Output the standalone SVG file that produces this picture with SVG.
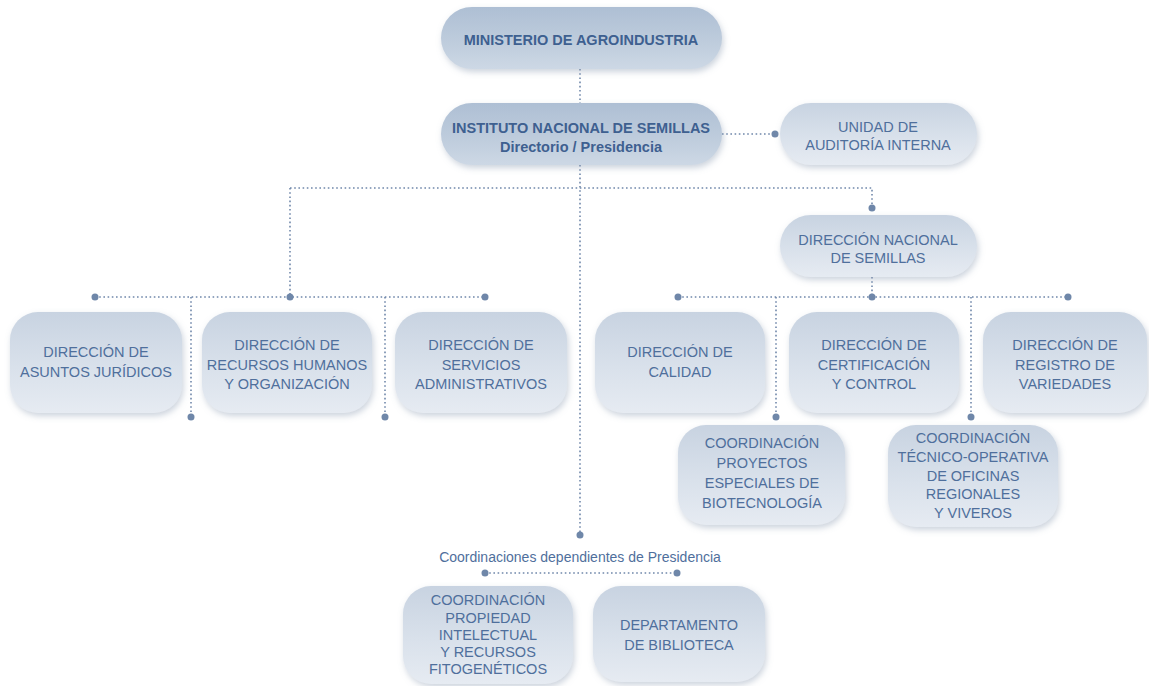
<svg xmlns="http://www.w3.org/2000/svg" width="1149" height="686" viewBox="0 0 1149 686">
<defs>
<linearGradient id="gBox" x1="0" y1="0" x2="0" y2="1">
<stop offset="0" stop-color="#c8d3e1"/>
<stop offset="0.55" stop-color="#d9e1eb"/>
<stop offset="1" stop-color="#e6ebf2"/>
</linearGradient>
<linearGradient id="gTop" x1="0" y1="0" x2="0" y2="1">
<stop offset="0" stop-color="#aebfd4"/>
<stop offset="0.6" stop-color="#bfcddd"/>
<stop offset="1" stop-color="#cdd8e5"/>
</linearGradient>
<filter id="sh" x="-10%" y="-10%" width="125%" height="130%">
<feDropShadow dx="1.5" dy="3" stdDeviation="3" flood-color="#8d9db3" flood-opacity="0.45"/>
</filter>
</defs>
<style>
.box{fill:url(#gBox);filter:url(#sh)}
.top{fill:url(#gTop);filter:url(#sh)}
.t{font-family:"Liberation Sans",Arial,sans-serif;font-size:14.5px;fill:#4f6f9c;text-anchor:middle}
.b{font-family:"Liberation Sans",Arial,sans-serif;font-size:14.5px;font-weight:bold;fill:#3e6090;text-anchor:middle}
.c{fill:none;stroke:#7088aa;stroke-width:1.6;stroke-dasharray:1.6 2.6}
.d{fill:#6f87a9}
</style>
<rect width="1149" height="686" fill="#ffffff"/>
<g id="connectors">
<path class="c" d="M580 69V103"/>
<path class="c" d="M722 134H775"/>
<path class="c" d="M580 165V535"/>
<path class="c" d="M290 188H872V208"/>
<path class="c" d="M290 188V297"/>
<path class="c" d="M95 297H485"/>
<path class="c" d="M191 297V417"/>
<path class="c" d="M385 297V417"/>
<path class="c" d="M872 277V297"/>
<path class="c" d="M678 297H1068"/>
<path class="c" d="M776 297V417"/>
<path class="c" d="M971 297V417"/>
<path class="c" d="M485 573H677"/>
<circle class="d" cx="775" cy="134" r="3.5"/>
<circle class="d" cx="872" cy="208" r="3.5"/>
<circle class="d" cx="95" cy="297" r="3.5"/>
<circle class="d" cx="290" cy="297" r="3.5"/>
<circle class="d" cx="485" cy="297" r="3.5"/>
<circle class="d" cx="191" cy="417" r="3.5"/>
<circle class="d" cx="385" cy="417" r="3.5"/>
<circle class="d" cx="678" cy="297" r="3.5"/>
<circle class="d" cx="872" cy="297" r="3.5"/>
<circle class="d" cx="1068" cy="297" r="3.5"/>
<circle class="d" cx="776" cy="417" r="3.5"/>
<circle class="d" cx="971" cy="417" r="3.5"/>
<circle class="d" cx="580" cy="535" r="3.5"/>
<circle class="d" cx="485" cy="573" r="3.5"/>
<circle class="d" cx="677" cy="573" r="3.5"/>
</g>
<g id="ministerio">
<rect class="top" x="441" y="7" width="281" height="62" rx="31"/>
<text class="b" x="581" y="45">MINISTERIO DE AGROINDUSTRIA</text>
</g>
<g id="instituto">
<rect class="top" x="441" y="103" width="281" height="62" rx="31"/>
<text class="b" x="581" y="133">INSTITUTO NACIONAL DE SEMILLAS</text>
<text class="b" x="581" y="152">Directorio / Presidencia</text>
</g>
<g id="auditoria">
<rect class="box" x="780" y="103" width="197" height="62" rx="31"/>
<text class="t" x="878" y="132">UNIDAD DE</text>
<text class="t" x="878" y="150">AUDITORÍA INTERNA</text>
</g>
<g id="dns">
<rect class="box" x="780" y="215" width="197" height="62" rx="31"/>
<text class="t" x="878" y="245">DIRECCIÓN NACIONAL</text>
<text class="t" x="878" y="263">DE SEMILLAS</text>
</g>
<g id="juridicos">
<rect class="box" x="10" y="312" width="172" height="101" rx="28"/>
<text class="t" x="96" y="357">DIRECCIÓN DE</text>
<text class="t" x="96" y="377">ASUNTOS JURÍDICOS</text>
</g>
<g id="rrhh">
<rect class="box" x="202" y="312" width="170" height="101" rx="28"/>
<text class="t" x="287" y="350">DIRECCIÓN DE</text>
<text class="t" x="287" y="370">RECURSOS HUMANOS</text>
<text class="t" x="287" y="389">Y ORGANIZACIÓN</text>
</g>
<g id="servicios">
<rect class="box" x="395" y="312" width="172" height="101" rx="28"/>
<text class="t" x="481" y="350">DIRECCIÓN DE</text>
<text class="t" x="481" y="370">SERVICIOS</text>
<text class="t" x="481" y="389">ADMINISTRATIVOS</text>
</g>
<g id="calidad">
<rect class="box" x="595" y="312" width="170" height="101" rx="28"/>
<text class="t" x="680" y="357">DIRECCIÓN DE</text>
<text class="t" x="680" y="377">CALIDAD</text>
</g>
<g id="certificacion">
<rect class="box" x="789" y="312" width="170" height="101" rx="28"/>
<text class="t" x="874" y="350">DIRECCIÓN DE</text>
<text class="t" x="874" y="370">CERTIFICACIÓN</text>
<text class="t" x="874" y="389">Y CONTROL</text>
</g>
<g id="registro">
<rect class="box" x="983" y="312" width="164" height="101" rx="28"/>
<text class="t" x="1065" y="350">DIRECCIÓN DE</text>
<text class="t" x="1065" y="370">REGISTRO DE</text>
<text class="t" x="1065" y="389">VARIEDADES</text>
</g>
<g id="biotecnologia">
<rect class="box" x="678" y="425" width="167" height="100" rx="28"/>
<text class="t" x="762" y="448">COORDINACIÓN</text>
<text class="t" x="762" y="468">PROYECTOS</text>
<text class="t" x="762" y="488">ESPECIALES DE</text>
<text class="t" x="762" y="508">BIOTECNOLOGÍA</text>
</g>
<g id="oficinas">
<rect class="box" x="888" y="425" width="170" height="102" rx="28"/>
<text class="t" x="973" y="443">COORDINACIÓN</text>
<text class="t" x="973" y="462">TÉCNICO-OPERATIVA</text>
<text class="t" x="973" y="481">DE OFICINAS</text>
<text class="t" x="973" y="499">REGIONALES</text>
<text class="t" x="973" y="518">Y VIVEROS</text>
</g>
<g id="coordinaciones-label">
<text class="t" x="580" y="562" style="font-size:14px">Coordinaciones dependientes de Presidencia</text>
</g>
<g id="propiedad">
<rect class="box" x="403" y="586" width="170" height="98" rx="28"/>
<text class="t" x="488" y="605">COORDINACIÓN</text>
<text class="t" x="488" y="623">PROPIEDAD</text>
<text class="t" x="488" y="640">INTELECTUAL</text>
<text class="t" x="488" y="657">Y RECURSOS</text>
<text class="t" x="488" y="674">FITOGENÉTICOS</text>
</g>
<g id="biblioteca">
<rect class="box" x="593" y="586" width="172" height="96" rx="28"/>
<text class="t" x="679" y="630">DEPARTAMENTO</text>
<text class="t" x="679" y="650">DE BIBLIOTECA</text>
</g>
</svg>
